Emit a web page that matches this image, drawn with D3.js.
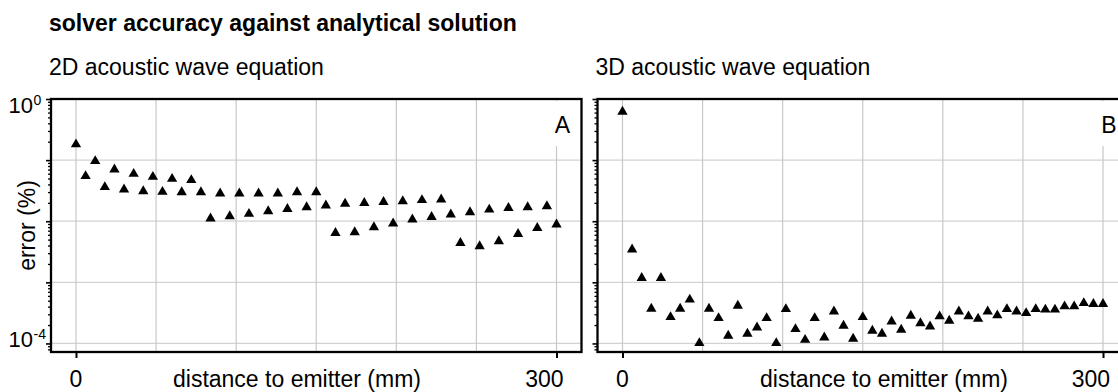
<!DOCTYPE html>
<html>
<head>
<meta charset="utf-8">
<script src="https://cdn.jsdelivr.net/npm/d3@7"></script>
<style>
  body { margin: 0; background: #fff; }
  svg { display: block; font-family: "Liberation Sans", Arial, sans-serif; }
</style>
</head>
<body>
<div id="chart"></div>
<script>
// distance to emitter (mm)
const distances = [0, 6, 12, 18, 24, 30, 36, 42, 48, 54, 60, 66, 72, 78, 84, 90, 96, 102, 108, 114,
  120, 126, 132, 138, 144, 150, 156, 162, 168, 174, 180, 186, 192, 198, 204, 210, 216, 222, 228, 234,
  240, 246, 252, 258, 264, 270, 276, 282, 288, 294, 300];

// error (%), 2D solver
const error2D = [0.188, 0.0568, 0.100, 0.0375, 0.0731, 0.0344, 0.0619, 0.0322, 0.0553, 0.0314,
  0.0513, 0.0310, 0.0489, 0.0310, 0.0115, 0.0295, 0.0125, 0.0295, 0.0137, 0.0295,
  0.0151, 0.0295, 0.0165, 0.0310, 0.0176, 0.0310, 0.0188, 0.00668, 0.0200, 0.00685,
  0.0207, 0.00828, 0.0215, 0.00953, 0.0221, 0.0111, 0.0230, 0.0122, 0.0236, 0.0134,
  0.00458, 0.0146, 0.00405, 0.0161, 0.00489, 0.0171, 0.00643, 0.0176, 0.00807, 0.0183,
  0.00916];

// error (%), 3D solver
const error3D = [0.643, 0.00357, 0.00122, 0.000385, 0.00122, 0.000280, 0.000385, 0.000541, 0.000105, 0.000385,
  0.000270, 0.000139, 0.000431, 0.000150, 0.000190, 0.000270, 0.000105, 0.000379, 0.000178, 0.000119,
  0.000270, 0.000130, 0.000347, 0.000203, 0.000124, 0.000280, 0.000168, 0.000150, 0.000238, 0.000174,
  0.000295, 0.000223, 0.000197, 0.000288, 0.000245, 0.000347, 0.000288, 0.000264, 0.000347, 0.000299,
  0.000379, 0.000347, 0.000326, 0.000379, 0.000371, 0.000371, 0.000420, 0.000420, 0.000475, 0.000458,
  0.000458];

const xTickValues = [0, 300];
const xGridValues = [0, 50, 100, 150, 200, 250, 300];
const yMajorValues = [1, 1e-1, 1e-2, 1e-3, 1e-4];
const yLabelValues = [1, 1e-4];
const yLabelExponents = ['0', '-4'];

const width = 1118, height = 392;
const panelW = 530.5, panelH = 253;

const svg = d3.select('div#chart').append('svg')
  .attr('width', width)
  .attr('height', height);

svg.append('rect').attr('width', width).attr('height', height).attr('fill', '#fff');

svg.append('text')
  .attr('x', 49).attr('y', 31)
  .attr('font-size', 23).attr('font-weight', 'bold')
  .text('solver accuracy against analytical solution');

const x = d3.scaleLinear().domain([-15.6, 315.6]).range([0, panelW]);
const y = d3.scaleLog().domain([Math.pow(10, -4.14), 1]).range([panelH, 0]);

// minor log ticks inside the domain
const yMinorValues = [];
[1e-5, 1e-4, 1e-3, 1e-2, 1e-1].forEach((dec) => {
  for (let k = 2; k <= 9; k++) {
    const v = dec * k;
    if (v >= y.domain()[0] && v <= 1) yMinorValues.push(v);
  }
});

function drawPanel(left, subtitle, letter, values, withLabels, labelX) {
  svg.append('text')
    .attr('x', left - 2).attr('y', 75)
    .attr('font-size', 23)
    .text(subtitle);

  const g = svg.append('g').attr('transform', `translate(${left}, 99)`);

  // grid
  g.append('g').selectAll('line.hgrid')
    .data(yMajorValues.filter((v) => v < 1))
    .enter().append('line')
    .attr('x1', 0).attr('x2', panelW)
    .attr('y1', (d) => y(d)).attr('y2', (d) => y(d))
    .attr('stroke', '#d2d2d2').attr('stroke-width', 1.2);

  g.append('g').selectAll('line.vgrid')
    .data(xGridValues)
    .enter().append('line')
    .attr('x1', (d) => x(d)).attr('x2', (d) => x(d))
    .attr('y1', 0).attr('y2', panelH)
    .attr('stroke', '#c8c8c8').attr('stroke-width', 1.2);

  // panel letter with a white box behind it
  g.append('rect')
    .attr('x', x(300) - 12).attr('y', 2)
    .attr('width', 26).attr('height', 45)
    .attr('fill', '#fff');
  g.append('text')
    .attr('x', x(300) + 6).attr('y', 34)
    .attr('text-anchor', 'middle')
    .attr('font-size', 23)
    .text(letter);

  // y ticks
  g.append('g')
    .call(d3.axisLeft(y).tickValues(yMinorValues).tickSize(3).tickFormat(''))
    .call((a) => a.select('.domain').remove())
    .selectAll('line').attr('stroke', '#000').attr('stroke-width', 1.3);
  g.append('g')
    .call(d3.axisLeft(y).tickValues(yMajorValues).tickSize(5).tickFormat(''))
    .call((a) => a.select('.domain').remove())
    .selectAll('line').attr('stroke', '#000').attr('stroke-width', 1.6);

  // x ticks
  g.append('g')
    .attr('transform', `translate(0, ${panelH})`)
    .call(d3.axisBottom(x).tickValues(xTickValues).tickSize(6).tickFormat(''))
    .call((a) => a.select('.domain').remove())
    .selectAll('line').attr('stroke', '#000').attr('stroke-width', 2);

  // "0" sits centred on its tick, "300" ends just right of its tick
  g.selectAll('text.xlab')
    .data(xTickValues)
    .enter().append('text')
    .attr('class', 'xlab')
    .attr('x', (d, i) => i === 0 ? x(d) : x(d) + 7).attr('y', panelH + 35)
    .attr('text-anchor', (d, i) => i === 0 ? 'middle' : 'end')
    .attr('font-size', 23)
    .text((d) => d);

  g.append('text')
    .attr('x', labelX - left).attr('y', panelH + 35)
    .attr('font-size', 23)
    .text('distance to emitter (mm)');

  // data
  g.selectAll('path.pt')
    .data(values)
    .enter().append('path')
    .attr('class', 'pt')
    .attr('transform', (d, i) => `translate(${x(distances[i])}, ${y(d) + 1})`)
    .attr('d', d3.symbol().type(d3.symbolTriangle).size(46))
    .attr('fill', '#000');

  // frame
  g.append('rect')
    .attr('width', panelW).attr('height', panelH)
    .attr('fill', 'none')
    .attr('stroke', '#000').attr('stroke-width', 2.3);

  if (withLabels) {
    yLabelValues.forEach((v, i) => {
      const yy = i === 0 ? y(v) + 14 : y(v) + 4;
      g.append('text')
        .attr('x', -18).attr('y', yy)
        .attr('text-anchor', 'end')
        .attr('font-size', 22)
        .text('10');
      g.append('text')
        .attr('x', -17.5).attr('y', yy - 8)
        .attr('font-size', 14)
        .text(yLabelExponents[i]);
    });
    g.append('text')
      .attr('transform', `translate(-16, ${panelH / 2}) rotate(-90)`)
      .attr('text-anchor', 'middle')
      .attr('font-size', 23)
      .text('error (%)');
  }
}

drawPanel(51, '2D acoustic wave equation', 'A', error2D, true, 173);
drawPanel(597.5, '3D acoustic wave equation', 'B', error3D, false, 760);
</script>
</body>
</html>
